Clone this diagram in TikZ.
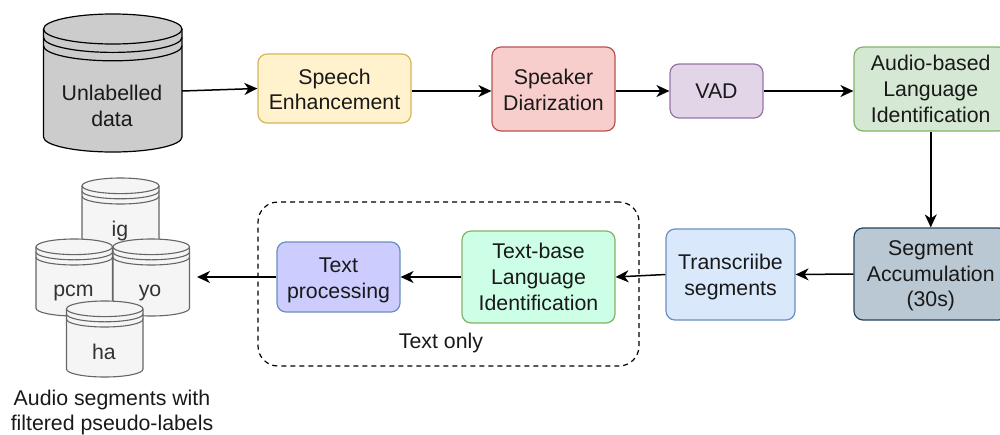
\documentclass[tikz,border=0pt]{standalone}
\usepackage{fontspec}
\setmainfont{Liberation Sans}
\usetikzlibrary{arrows.meta,calc}
\definecolor{cyA}{HTML}{FFF2CC}\definecolor{cyB}{HTML}{D6B656}
\definecolor{reA}{HTML}{F8CECC}\definecolor{reB}{HTML}{B85450}
\definecolor{puA}{HTML}{E1D5E7}\definecolor{puB}{HTML}{9673A6}
\definecolor{grA}{HTML}{D5E8D4}\definecolor{grB}{HTML}{82B366}
\definecolor{slA}{HTML}{BAC8D3}\definecolor{slB}{HTML}{23445D}
\definecolor{blA}{HTML}{DAE8FC}\definecolor{blB}{HTML}{6C8EBF}
\definecolor{miA}{HTML}{CCFFE6}\definecolor{miB}{HTML}{82B366}
\definecolor{viA}{HTML}{CCCCFF}\definecolor{viB}{HTML}{6C8EBF}
\definecolor{cgA}{HTML}{F5F5F5}\definecolor{cgB}{HTML}{666666}
\definecolor{cgT}{HTML}{333333}
\tikzset{
  x=1pt,y=-1pt,
  proc/.style={draw,rounded corners=9pt,line width=1.2pt,align=center,inner sep=0pt,
    font=\fontsize{21.3}{25.8}\selectfont,text=black!90},
  arr/.style={-{Stealth[length=13pt,width=12pt,inset=4pt]},line width=1.5pt,black},
  lbl/.style={align=center,inner sep=0pt,font=\fontsize{21.3}{25.8}\selectfont,text=black!90},
  smalllbl/.style={lbl,text=cgT},
}
% #1 left, #2 top, #3 width, #4 height, #5 ry, #6 gap, #7 fill, #8 stroke, #9 line width
\newcommand{\drumshape}[9]{%
  \pgfmathsetmacro{\drx}{#3/2}%
  \draw[#8,line width=#9,fill=#7] (#1,#2+#5)
     arc[start angle=180,end angle=360,x radius=\drx,y radius=#5]
     -- (#1+#3,#2+#4-#5)
     arc[start angle=0,end angle=180,x radius=\drx,y radius=#5] -- cycle;
  \foreach \k in {0,1,2}{%
    \draw[#8,line width=#9] (#1,#2+#5+\k*#6)
     arc[start angle=180,end angle=360,x radius=\drx,y radius=-#5];}
}
\newcommand{\dn}[1]{\rule{0pt}{\dimexpr15.4pt+#1\relax}}
\begin{document}
\begin{tikzpicture}
\useasboundingbox (0,0) rectangle (1000,434);
\clip (0,0) rectangle (1000,434);
% big drum
\drumshape{43.5}{14}{138.5}{138}{15}{8.4}{black!20}{black}{1.2pt}
\node[minimum width=138.5pt,minimum height=122pt,inner sep=0pt,outer sep=0pt] (data) at (112.75,91) {};
\node[lbl] (datat) at (112,106) {Unlabelled\\data};
% small drums
\drumshape{82}{178}{77}{77}{7.8}{5.2}{cgA}{cgB}{1.1pt}
\node[smalllbl] (ig) at (120,231) {ig};
\drumshape{36}{239}{76.5}{77}{7.8}{5.2}{cgA}{cgB}{1.1pt}
\node[smalllbl] (pcm) at (73.5,293) {pcm};
\drumshape{113}{239}{76.5}{77}{7.8}{5.2}{cgA}{cgB}{1.1pt}
\node[smalllbl] (yo) at (150,293) {yo};
\drumshape{66.5}{301}{76.5}{76}{7.8}{5.2}{cgA}{cgB}{1.1pt}
\node[smalllbl] (ha) at (104,351.5) {ha};
\coordinate (store) at (197,277);
\node[lbl] (cap) at (112,412.5) {Audio segments with\\filtered pseudo-labels};
% process boxes
\node[proc,fill=cyA,draw=cyB,minimum width=153pt,minimum height=69pt] (se) at (334.5,88.5) {\dn{2pt}Speech\\Enhancement};
\node[proc,fill=reA,draw=reB,minimum width=123pt,minimum height=84pt] (sd) at (553.5,89) {\dn{2pt}Speaker\\Diarization};
\node[proc,fill=puA,draw=puB,minimum width=93pt,minimum height=54pt] (vad) at (716.5,91) {VAD};
\node[proc,fill=grA,draw=grB,minimum width=153.5pt,minimum height=84pt] (alid) at (930.75,89) {Audio-based\\Language\\Identification};
\node[proc,fill=slA,draw=slB,minimum width=153.5pt,minimum height=92pt] (acc) at (930.75,274) {\dn{3pt}Segment\\Accumulation\\(30s)};
\node[proc,fill=blA,draw=blB,minimum width=129pt,minimum height=91pt] (tr) at (730.5,274.5) {\dn{5pt}Transcriibe\\segments};
\node[proc,fill=miA,draw=miB,minimum width=153pt,minimum height=92pt] (tlid) at (538.5,277) {Text-base\\Language\\Identification};
\node[proc,fill=viA,draw=viB,minimum width=123pt,minimum height=70pt] (tp) at (338.5,277) {\dn{6pt}Text\\processing};
\node[draw,dash pattern=on 5pt off 4pt,rounded corners=20pt,line width=1.2pt,minimum width=381pt,minimum height=164pt,inner sep=0pt] (frame) at (448.5,284) {};
\node[lbl] (frl) at (441,343) {Text only};
% connectors
\draw[arr] (data.east) -- (se.west);
\draw[arr] ($(se.east)+(0,2.5)$) -- ($(sd.west)+(0,2)$);
\draw[arr] ($(sd.east)+(0,2)$) -- (vad.west);
\draw[arr] (vad.east) -- ($(alid.west)+(0,2)$);
\draw[arr] (alid.south) -- (acc.north);
\draw[arr] (acc.west) -- (tr.east);
\draw[arr] (tr.west) -- (tlid.east);
\draw[arr] (tlid.west) -- (tp.east);
\draw[arr] (tp.west) -- (store);
\end{tikzpicture}
\end{document}
